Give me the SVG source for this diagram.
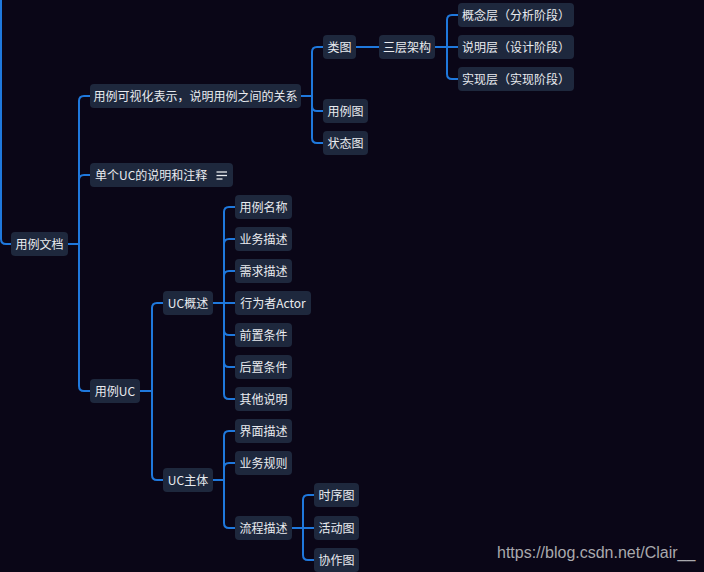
<svg xmlns="http://www.w3.org/2000/svg" width="704" height="572" viewBox="0 0 704 572">
<style>
.bg{fill:#0a0617}
.n rect{fill:#1e283d}
.n text{fill:#e9ebef;font-family:"Noto Sans CJK SC","Noto Sans",sans-serif;font-size:12px;text-anchor:middle}
.c path{fill:none;stroke:#1f78dc;stroke-width:2}
.wm{fill:#a9a9ad;font-family:"Liberation Sans",Arial,sans-serif;font-size:16px}
.ic{stroke:#e9ebef;stroke-width:1.3}
</style>
<rect class="bg" x="0" y="0" width="704" height="572"/>
<g id="connectors" class="c">
<path d="M1 0 V239 Q1 244 6 244 H11"/>
<path d="M68 244 H79 V101 Q79 96 84 96 H90"/>
<path d="M68 244 H79 V180 Q79 175 84 175 H90"/>
<path d="M68 244 H79 V386 Q79 391 84 391 H90"/>
<path d="M301 96 H312 V52 Q312 47 317 47 H323"/>
<path d="M301 96 H312 V106 Q312 111 317 111 H323"/>
<path d="M301 96 H312 V138 Q312 143 317 143 H323"/>
<path d="M356 47 H379"/>
<path d="M435 47 H447 V20 Q447 15 452 15 H458"/>
<path d="M435 47 H458"/>
<path d="M435 47 H447 V74 Q447 79 452 79 H458"/>
<path d="M140 391 H152 V308 Q152 303 157 303 H163"/>
<path d="M140 391 H152 V475 Q152 480 157 480 H163"/>
<path d="M213 303 H224 V212 Q224 207 229 207 H235"/>
<path d="M213 303 H224 V244 Q224 239 229 239 H235"/>
<path d="M213 303 H224 V276 Q224 271 229 271 H235"/>
<path d="M213 303 H235"/>
<path d="M213 303 H224 V330 Q224 335 229 335 H235"/>
<path d="M213 303 H224 V362 Q224 367 229 367 H235"/>
<path d="M213 303 H224 V394 Q224 399 229 399 H235"/>
<path d="M213 480 H224 V436 Q224 431 229 431 H235"/>
<path d="M213 480 H224 V468 Q224 463 229 463 H235"/>
<path d="M213 480 H224 V523 Q224 528 229 528 H235"/>
<path d="M292 528 H303 V500 Q303 495 308 495 H314"/>
<path d="M292 528 H314"/>
<path d="M292 528 H303 V555 Q303 560 308 560 H314"/>
</g>
<g id="root" class="n"><rect x="11" y="232" width="57" height="24" rx="4"/><text x="39.5" y="248.5">用例文档</text></g>
<g id="n1" class="n"><rect x="90" y="84" width="211" height="24" rx="4"/><text x="195.5" y="100.5">用例可视化表示，说明用例之间的关系</text></g>
<g id="n2" class="n"><rect x="90" y="163" width="143" height="24" rx="4"/><text x="95" y="179.5" style="text-anchor:start">单个UC的说明和注释</text>
<line class="ic" x1="216.5" y1="172" x2="227" y2="172"/><line class="ic" x1="216.5" y1="175.5" x2="227" y2="175.5"/><line class="ic" x1="216.5" y1="179" x2="222.5" y2="179"/></g>
<g id="n3" class="n"><rect x="90" y="379" width="50" height="24" rx="4"/><text x="115" y="395.5">用例UC</text></g>
<g id="leitu" class="n"><rect x="323" y="35" width="33" height="24" rx="4"/><text x="339.5" y="51.5">类图</text></g>
<g id="yonglitu" class="n"><rect x="323" y="99" width="45" height="24" rx="4"/><text x="345.5" y="115.5">用例图</text></g>
<g id="zhuangtaitu" class="n"><rect x="323" y="131" width="45" height="24" rx="4"/><text x="345.5" y="147.5">状态图</text></g>
<g id="sanceng" class="n"><rect x="379" y="35" width="56" height="24" rx="4"/><text x="407" y="51.5">三层架构</text></g>
<g id="gainian" class="n"><rect x="458" y="3" width="116" height="24" rx="4"/><text x="516" y="19.5">概念层（分析阶段）</text></g>
<g id="shuoming" class="n"><rect x="458" y="35" width="116" height="24" rx="4"/><text x="516" y="51.5">说明层（设计阶段）</text></g>
<g id="shixian" class="n"><rect x="458" y="67" width="116" height="24" rx="4"/><text x="516" y="83.5">实现层（实现阶段）</text></g>
<g id="ucgaishu" class="n"><rect x="163" y="291" width="50" height="24" rx="4"/><text x="188" y="307.5">UC概述</text></g>
<g id="ucbody" class="n"><rect x="163" y="468" width="50" height="24" rx="4"/><text x="188" y="484.5">UC主体</text></g>
<g id="c1" class="n"><rect x="235" y="195" width="57" height="24" rx="4"/><text x="263.5" y="211.5">用例名称</text></g>
<g id="c2" class="n"><rect x="235" y="227" width="57" height="24" rx="4"/><text x="263.5" y="243.5">业务描述</text></g>
<g id="c3" class="n"><rect x="235" y="259" width="57" height="24" rx="4"/><text x="263.5" y="275.5">需求描述</text></g>
<g id="c4" class="n"><rect x="235" y="291" width="76" height="24" rx="4"/><text x="273" y="307.5">行为者Actor</text></g>
<g id="c5" class="n"><rect x="235" y="323" width="57" height="24" rx="4"/><text x="263.5" y="339.5">前置条件</text></g>
<g id="c6" class="n"><rect x="235" y="355" width="57" height="24" rx="4"/><text x="263.5" y="371.5">后置条件</text></g>
<g id="c7" class="n"><rect x="235" y="387" width="57" height="24" rx="4"/><text x="263.5" y="403.5">其他说明</text></g>
<g id="d1" class="n"><rect x="235" y="419" width="57" height="24" rx="4"/><text x="263.5" y="435.5">界面描述</text></g>
<g id="d2" class="n"><rect x="235" y="451" width="57" height="24" rx="4"/><text x="263.5" y="467.5">业务规则</text></g>
<g id="d3" class="n"><rect x="235" y="516" width="57" height="24" rx="4"/><text x="263.5" y="532.5">流程描述</text></g>
<g id="e1" class="n"><rect x="314" y="483" width="45" height="24" rx="4"/><text x="336.5" y="499.5">时序图</text></g>
<g id="e2" class="n"><rect x="314" y="516" width="45" height="24" rx="4"/><text x="336.5" y="532.5">活动图</text></g>
<g id="e3" class="n"><rect x="314" y="548" width="45" height="24" rx="4"/><text x="336.5" y="564.5">协作图</text></g>
<text class="wm" x="497" y="558">https://blog.csdn.net/Clair__</text>
</svg>
